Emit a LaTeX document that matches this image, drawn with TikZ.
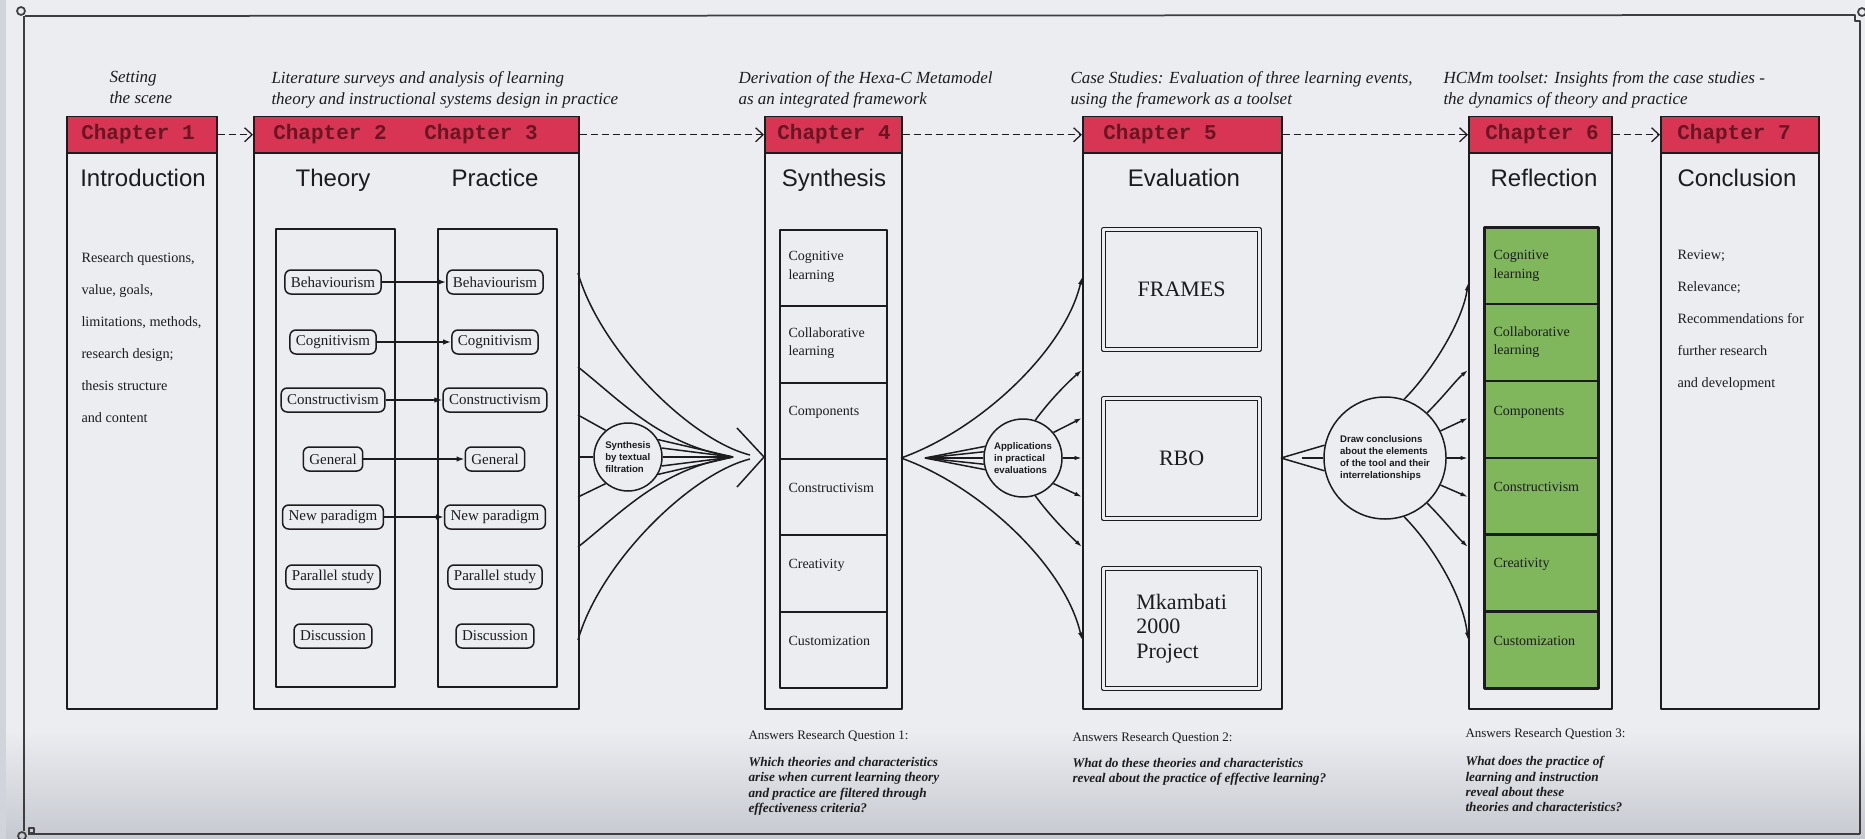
\documentclass[tikz,border=0pt]{standalone}
\usepackage{fontspec}
\setmainfont{Liberation Serif}
\setsansfont{Liberation Sans}
\setmonofont{Liberation Mono}
\usetikzlibrary{arrows.meta}
\definecolor{bg}{RGB}{235,237,241}
\definecolor{bgdark}{RGB}{198,201,208}
\definecolor{hdr}{RGB}{216,52,84}
\definecolor{hdrtxt}{RGB}{105,22,34}
\definecolor{grn}{RGB}{128,182,92}
\definecolor{ink}{RGB}{28,28,30}
\begin{document}
\begin{tikzpicture}[x=0.4pt,y=-0.4pt,line join=round,
  ln/.style={draw=ink,line width=0.6pt},
  pgframe/.style={draw=ink!85,line width=0.7pt},
  chbox/.style={draw=ink,line width=0.6pt,inner sep=0pt,anchor=north west,minimum height=236.8pt},
  chhdr/.style={fill=hdr,draw=ink,line width=0.6pt,inner sep=0pt,anchor=north west,minimum height=14.4pt},
  hdrtext/.style={font=\ttfamily\bfseries\fontsize{8.4}{9}\selectfont,text=hdrtxt,inner sep=0pt},
  hdrarrow/.style={draw=ink,line width=0.5pt,dash pattern=on 2.8pt off 1.6pt,-{Straight Barb[length=3pt,width=5.6pt]}},
  ttl/.style={font=\sffamily\fontsize{9.6}{11}\selectfont,text=ink,inner sep=0pt,anchor=base},
  captext/.style={font=\itshape\fontsize{6.8}{8.4}\selectfont,text=ink,inner sep=0pt,anchor=north west,align=left},
  bodytext/.style={font=\fontsize{5.7}{12.8}\selectfont,text=ink,inner sep=0pt,anchor=north west,align=left},
  itm/.style={draw=ink,line width=0.6pt,rounded corners=2.4pt,font=\fontsize{6}{7}\selectfont,text=ink,inner xsep=2.4pt,inner ysep=0pt,minimum height=9.6pt},
  colbox/.style={draw=ink,line width=0.6pt,inner sep=0pt,anchor=north west,minimum width=47.6pt,minimum height=183.2pt},
  tparrow/.style={draw=ink,line width=0.6pt,-{Latex[length=3.2pt,width=2.2pt]}},
  smarrow/.style={draw=ink,line width=0.6pt,-{Latex[length=3pt,width=1.8pt]}},
  cellA/.style={draw=ink,line width=0.8pt,inner sep=0pt,anchor=north west,minimum width=42.8pt,minimum height=30.53pt},
  cellB/.style={draw=ink,fill=grn,line width=1pt,inner sep=0pt,anchor=north west,minimum width=45.6pt,minimum height=30.73pt},
  celltext/.style={font=\fontsize{5.6}{7.4}\selectfont,text=ink,inner sep=0pt,anchor=west,align=left},
  casebox/.style={draw=ink,line width=0.5pt,double=bg,double distance=1.2pt,inner sep=0pt,anchor=north west,minimum width=62.4pt,minimum height=48pt,font=\fontsize{8.8}{9.8}\selectfont,text=ink,align=left},
  circ/.style={draw=ink,line width=0.6pt,circle,inner sep=0pt,fill=bg,align=left,font=\sffamily\bfseries\fontsize{3.85}{4.7}\selectfont,text=ink},
  anstext/.style={font=\fontsize{5.2}{6}\selectfont,text=ink,inner sep=0pt,anchor=north west},
  ansit/.style={font=\bfseries\itshape\fontsize{5.3}{6.1}\selectfont,text=ink,inner sep=0pt,anchor=north west,align=left}
]
\useasboundingbox (0,0) rectangle (1865,839);
\fill[bg] (0,0) rectangle (1865,839);
\shade[top color=bg,bottom color=bgdark] (0,730) rectangle (1865,839);
\fill[bgdark!70!bg] (0,0) rectangle (6,839);

% page frame
\draw[pgframe] (25,16) -- (1855,15) -- (1855,21) -- (1860,21) -- (1860,834);
\draw[pgframe] (24,16) -- (24,831);
\draw[pgframe] (28,834) -- (1860,834);
\draw[pgframe] (21,11) circle[radius=4];
\draw[pgframe] (1862,12) circle[radius=4];
\draw[pgframe] (22,836) circle[radius=4];
\draw[pgframe] (29,828) rectangle (34,833);

% captions
\node[captext] (cap1) at (109,71) {Setting\\the scene};
\node[captext] (cap2) at (271,71) {Literature surveys and analysis of learning\\theory and instructional systems design in practice};
\node[captext] (cap4) at (738,71) {Derivation of the Hexa-C Metamodel\\as an integrated framework};
\node[captext] (cap5) at (1070,71) {Case Studies: Evaluation of three learning events,\\using the framework as a toolset};
\node[captext] (cap6) at (1443,71) {HCMm toolset: Insights from the case studies -\\the dynamics of theory and practice};

% chapter boxes
\node[chbox,minimum width=60pt] (c1) at (66,116) {};
\node[chhdr,minimum width=60pt] (h1) at (66,116) {};
\node[chbox,minimum width=130pt] (c2) at (253,116) {};
\node[chhdr,minimum width=130pt] (h2) at (253,116) {};
\node[chbox,minimum width=54.8pt] (c4) at (764,116) {};
\node[chhdr,minimum width=54.8pt] (h4) at (764,116) {};
\node[chbox,minimum width=79.6pt] (c5) at (1082,116) {};
\node[chhdr,minimum width=79.6pt] (h5) at (1082,116) {};
\node[chbox,minimum width=57.2pt] (c6) at (1468,116) {};
\node[chhdr,minimum width=57.2pt] (h6) at (1468,116) {};
\node[chbox,minimum width=63.2pt] (c7) at (1660,116) {};
\node[chhdr,minimum width=63.2pt] (h7) at (1660,116) {};

\node[hdrtext] (h1t) at (138,134) {Chapter 1};
\node[hdrtext] (h2t) at (330,134) {Chapter 2};
\node[hdrtext] (h3t) at (481,134) {Chapter 3};
\node[hdrtext] (h4t) at (834,134) {Chapter 4};
\node[hdrtext] (h5t) at (1160,134) {Chapter 5};
\node[hdrtext] (h6t) at (1542,134) {Chapter 6};
\node[hdrtext] (h7t) at (1734,134) {Chapter 7};

\draw[hdrarrow] (h1.east) -- (h2.west);
\draw[hdrarrow] (h2.east) -- (h4.west);
\draw[hdrarrow] (h4.east) -- (h5.west);
\draw[hdrarrow] (h5.east) -- (h6.west);
\draw[hdrarrow] (h6.east) -- (h7.west);

% titles
\node[ttl] (ti1) at (143,186) {Introduction};
\node[ttl] (ti2) at (333,186) {Theory};
\node[ttl] (ti3) at (495,186) {Practice};
\node[ttl] (ti4) at (834,186) {Synthesis};
\node[ttl] (ti5) at (1184,186) {Evaluation};
\node[ttl] (ti6) at (1544,186) {Reflection};
\node[ttl] (ti7) at (1737,186) {Conclusion};

% chapter 1 and 7 texts
\node[bodytext] (c1txt) at (81,252) {Research questions,\\value, goals,\\limitations, methods,\\research design;\\thesis structure\\and content};
\node[bodytext] (c7txt) at (1677,250) {Review;\\Relevance;\\Recommendations for\\further research\\and development};

% theory / practice
\node[colbox] (thcol) at (275,228) {};
\node[colbox] (prcol) at (437,228) {};
\node[itm] (t1) at (333,282) {Behaviourism};
\node[itm] (t2) at (333,342) {Cognitivism};
\node[itm] (t3) at (333,400) {Constructivism};
\node[itm] (t4) at (333,459) {General};
\node[itm] (t5) at (333,517) {New paradigm};
\node[itm] (t6) at (333,577) {Parallel study};
\node[itm] (t7) at (333,636) {Discussion};
\node[itm] (p1) at (495,282) {Behaviourism};
\node[itm] (p2) at (495,342) {Cognitivism};
\node[itm] (p3) at (495,400) {Constructivism};
\node[itm] (p4) at (495,459) {General};
\node[itm] (p5) at (495,517) {New paradigm};
\node[itm] (p6) at (495,577) {Parallel study};
\node[itm] (p7) at (495,636) {Discussion};
\draw[tparrow] (t1) -- (p1);
\draw[tparrow] (t2) -- (p2);
\draw[tparrow] (t3) -- (p3);
\draw[tparrow] (t4) -- (p4);
\draw[tparrow] (t5) -- (p5);

% synthesis funnel
\node[circ,minimum size=27.2pt] (S) at (628,457) {Synthesis\\by textual\\filtration};
\coordinate (P) at (733,457);
\coordinate (sT) at (578,273);
\coordinate (sU) at (578,367);
\coordinate (sA) at (578,415);
\coordinate (sM) at (578,457);
\coordinate (sB) at (578,497);
\coordinate (sD) at (578,547);
\coordinate (sBot) at (578,640);
\coordinate (pT) at (750,455);
\coordinate (pB) at (750,459);
\draw[ln] (sA) -- (S.130);
\draw[ln] (sM) -- (S.180);
\draw[ln] (sB) -- (S.230);
\draw[ln] (sU) .. controls (620,400) and (660,445) .. (P);
\draw[ln] (sD) .. controls (620,514) and (660,469) .. (P);
\draw[ln] (sT) .. controls (600,350) and (690,440) .. (pT);
\draw[ln] (sBot) .. controls (600,563) and (690,474) .. (pB);
\foreach \a in {30,15,0,-15,-30} \draw[ln] (S.\a) -- (P);
\coordinate (chA) at (737,428);
\coordinate (chT) at (764,457);
\coordinate (chB) at (737,487);
\draw[ln] (chA) -- (chT) -- (chB);

% chapter 4 stack
\node[cellA] (k1) at (779,229) {};
\node[cellA] (k2) at (779,305.33) {};
\node[cellA] (k3) at (779,381.67) {};
\node[cellA] (k4) at (779,458) {};
\node[cellA] (k5) at (779,534.33) {};
\node[cellA] (k6) at (779,610.67) {};
\node[celltext] (k1t) at (788,267) {Cognitive\\learning};
\node[celltext] (k2t) at (788,343) {Collaborative\\learning};
\node[celltext] (k3t) at (788,412) {Components};
\node[celltext] (k4t) at (788,488) {Constructivism};
\node[celltext] (k5t) at (788,565) {Creativity};
\node[celltext] (k6t) at (788,641) {Customization};

% applications funnel
\node[circ,minimum size=31.2pt] (A) at (1023,458) {Applications\\in practical\\evaluations};
\coordinate (aO) at (901,458);
\coordinate (aTip) at (925,458);
\coordinate (e5a) at (1082,277);
\coordinate (e5b) at (1082,370);
\coordinate (e5c) at (1082,418);
\coordinate (e5d) at (1082,458);
\coordinate (e5e) at (1082,497);
\coordinate (e5f) at (1082,547);
\coordinate (e5g) at (1082,640);
\draw[smarrow] (aO) .. controls (980,430) and (1065,350) .. (e5a);
\draw[smarrow] (aO) .. controls (980,486) and (1065,566) .. (e5g);
\foreach \a in {163,171,189,197} \draw[ln] (A.\a) -- (aTip);
\draw[smarrow] (A.180) -- (aTip);
\draw[smarrow] (A.72) .. controls (1050,400) and (1068,382) .. (e5b);
\draw[smarrow] (A.40) -- (e5c);
\draw[smarrow] (A.0) -- (e5d);
\draw[smarrow] (A.-40) -- (e5e);
\draw[smarrow] (A.-72) .. controls (1050,516) and (1068,534) .. (e5f);

% chapter 5 cases
\node[casebox] (fr) at (1103,229) {FRAMES};
\node[casebox] (rbo) at (1103,398) {RBO};
\node[casebox] (mk) at (1103,568) {Mkambati\\2000\\Project};

% conclusions funnel
\node[circ,minimum size=48.8pt] (D) at (1385,458) {Draw conclusions\\about the elements\\of the tool and their\\interrelationships};
\coordinate (dO) at (1281,458);
\coordinate (dM) at (1302,458);
\draw[ln] (dO) -- (D.168);
\draw[ln] (dO) -- (D.192);
\draw[ln] (dM) -- (D.180);
\coordinate (e6a) at (1468,283);
\coordinate (e6b) at (1468,370);
\coordinate (e6c) at (1468,418);
\coordinate (e6d) at (1468,458);
\coordinate (e6e) at (1468,497);
\coordinate (e6f) at (1468,547);
\coordinate (e6g) at (1468,640);
\draw[smarrow] (D.72) .. controls (1433,370) and (1463,320) .. (e6a);
\draw[smarrow] (D.47) .. controls (1445,395) and (1456,380) .. (e6b);
\draw[smarrow] (D.26) -- (e6c);
\draw[smarrow] (D.0) -- (e6d);
\draw[smarrow] (D.-26) -- (e6e);
\draw[smarrow] (D.-47) .. controls (1445,521) and (1456,536) .. (e6f);
\draw[smarrow] (D.-72) .. controls (1433,546) and (1463,596) .. (e6g);

% chapter 6 stack
\node[cellB] (g1) at (1483,226) {};
\node[cellB] (g2) at (1483,302.8) {};
\node[cellB] (g3) at (1483,379.7) {};
\node[cellB] (g4) at (1483,456.5) {};
\node[cellB] (g5) at (1483,533.3) {};
\node[cellB] (g6) at (1483,610.2) {};
\node[celltext] (g1t) at (1493,266) {Cognitive\\learning};
\node[celltext] (g2t) at (1493,342) {Collaborative\\learning};
\node[celltext] (g3t) at (1493,412) {Components};
\node[celltext] (g4t) at (1493,487) {Constructivism};
\node[celltext] (g5t) at (1493,564) {Creativity};
\node[celltext] (g6t) at (1493,641) {Customization};

% research questions
\node[anstext] (q1) at (748,730) {Answers Research Question 1:};
\node[ansit] (q1t) at (748,757) {Which theories and characteristics\\arise when current learning theory\\and practice are filtered through\\effectiveness criteria?};
\node[anstext] (q2) at (1072,732) {Answers Research Question 2:};
\node[ansit] (q2t) at (1072,758) {What do these theories and characteristics\\reveal about the practice of effective learning?};
\node[anstext] (q3) at (1465,728) {Answers Research Question 3:};
\node[ansit] (q3t) at (1465,756) {What does the practice of\\learning and instruction\\reveal about these\\theories and characteristics?};
\end{tikzpicture}
\end{document}
